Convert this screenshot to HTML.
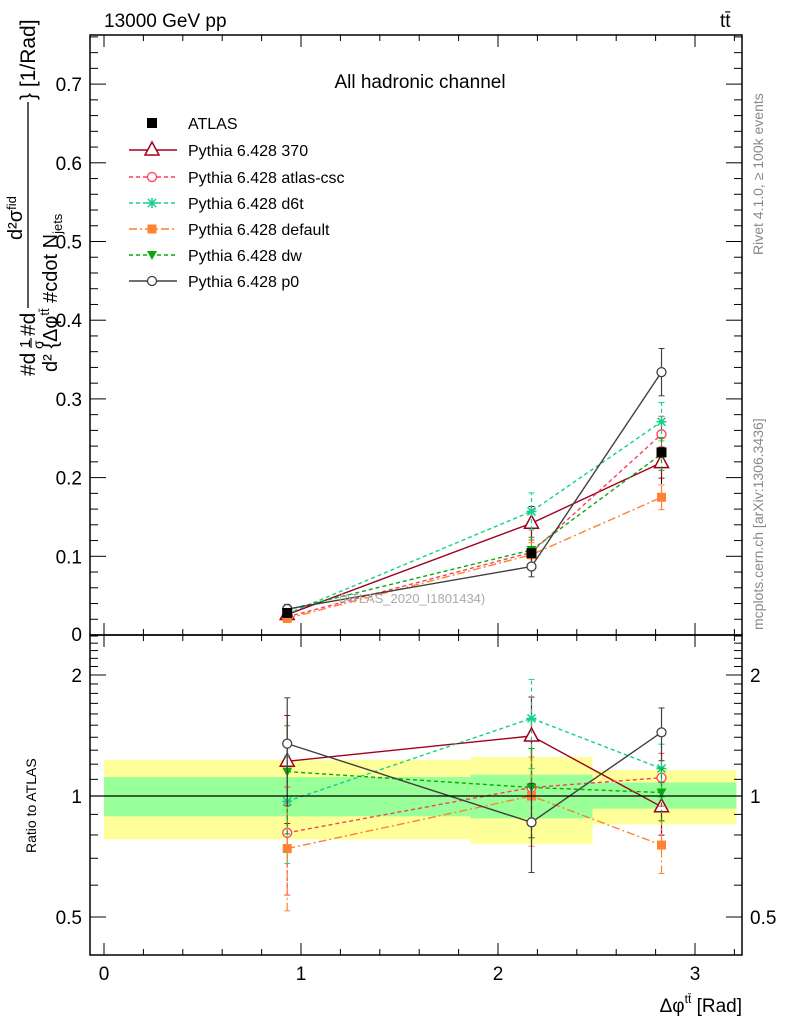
<!DOCTYPE html>
<html><head><meta charset="utf-8"><style>
html,body{margin:0;padding:0;background:#fff;}
svg{display:block;font-family:"Liberation Sans",sans-serif;}
</style></head><body>
<svg id="chart" width="786" height="1024" viewBox="0 0 786 1024">
<g id="bands"></g>
<g id="marks"></g>
<g id="axes"></g>
<text x="104" y="27" font-size="19">13000 GeV pp</text>
<text x="720" y="27" font-size="19">tt̄</text>
<text x="420" y="88" font-size="19" text-anchor="middle">All hadronic channel</text>
<text transform="translate(763,255) rotate(-90)" font-size="14" fill="#888">Rivet 4.1.0, ≥ 100k events</text>
<text transform="translate(763,630) rotate(-90)" font-size="14" fill="#888">mcplots.cern.ch [arXiv:1306.3436]</text>
<text x="412" y="603" font-size="13" fill="#aaa" text-anchor="middle">(ATLAS_2020_I1801434)</text>
<g>
<text transform="translate(35,376) rotate(-90)" font-size="21">#d</text>
<text transform="translate(30,348) rotate(-90)" font-size="15">1</text>
<text transform="translate(43,349) rotate(-90)" font-size="14">σ</text>
<line x1="31" x2="31" y1="348" y2="338" stroke="#000" stroke-width="1.2"/>
<text transform="translate(35,336) rotate(-90)" font-size="21">#d</text>
<line x1="28" x2="28" y1="308" y2="102" stroke="#000" stroke-width="1.3"/>
<text transform="translate(22,240) rotate(-90)" font-size="20">d²σ<tspan font-size="13" dy="-6">fid</tspan></text>
<text transform="translate(35,100) rotate(-90)" font-size="21">} [1/Rad]</text>
<text transform="translate(57,372) rotate(-90)" font-size="20">d² {Δφ<tspan font-size="13" dy="-8">tt̄</tspan><tspan dy="8"> #cdot N</tspan><tspan font-size="13" dy="5">jets</tspan></text>
</g>
<text transform="translate(36,853) rotate(-90)" font-size="14">Ratio to ATLAS</text>
<text x="742" y="1012" font-size="19" text-anchor="end">Δφ<tspan font-size="12" dy="-9">tt̄</tspan><tspan dy="9"> [Rad]</tspan></text>
<g id="legend"></g>
</svg>
<script>
const xCenters=[0.93,2.17,2.83];
const binEdges=[0,1.86,2.48,3.21];
const atlasVals=[0.028,0.104,0.232];
const atlasErr=[0.004,0.02,0.04];
const yTicks=[0.1,0.2,0.3,0.4,0.5,0.6,0.7];
const xTicks=[0,1,2,3];
const rTicks=[0.5,1,2];
const bandYellowLo=[0.78,0.76,0.85];
const bandYellowHi=[1.23,1.25,1.16];
const bandGreenLo=[0.89,0.88,0.93];
const bandGreenHi=[1.115,1.13,1.08];
const names=["Pythia 6.428 370","Pythia 6.428 atlas-csc","Pythia 6.428 d6t","Pythia 6.428 default","Pythia 6.428 dw","Pythia 6.428 p0"];
const v370=[0.026,0.142,0.219];
const vCsc=[0.023,0.105,0.255];
const vD6t=[0.027,0.157,0.271];
const vDef=[0.021,0.102,0.175];
const vDw=[0.032,0.108,0.230];
const vP0=[0.033,0.087,0.334];
const r370=[1.22,1.41,0.94];
const rCsc=[0.81,1.05,1.11];
const rD6t=[0.97,1.56,1.17];
const rDef=[0.74,1.00,0.755];
const rDw=[1.15,1.05,1.02];
const rP0=[1.35,0.86,1.44];
const rErrRel=[0.3,0.25,0.15];
const series=[
 {v:v370,r:r370,c:"#a0001e",d:"",m:"tri"},
 {v:vCsc,r:rCsc,c:"#ff3c5a",d:"4,3",m:"circ"},
 {v:vD6t,r:rD6t,c:"#14d08c",d:"4,3",m:"star"},
 {v:vDef,r:rDef,c:"#ff8232",d:"8,3,2,3",m:"sq"},
 {v:vDw,r:rDw,c:"#0aaa0a",d:"4,3",m:"dtri"},
 {v:vP0,r:rP0,c:"#404040",d:"",m:"circ"}];
const NS="http://www.w3.org/2000/svg";
const X=v=>104+197*v;
const Y=v=>635-787*v;
const R=v=>796-402*Math.log10(v);
function mk(t,a,p){const e=document.createElementNS(NS,t);for(const k in a)e.setAttribute(k,a[k]);p.appendChild(e);return e;}
const bands=document.getElementById('bands'),marks=document.getElementById('marks'),axes=document.getElementById('axes'),leg=document.getElementById('legend');
for(let i=0;i<3;i++){
 const y=mk('rect',{x:X(binEdges[i]),y:R(bandYellowHi[i]),width:X(binEdges[i+1])-X(binEdges[i]),height:R(bandYellowLo[i])-R(bandYellowHi[i]),fill:"#ffff99"},bands);
 
 const g=mk('rect',{x:X(binEdges[i]),y:R(bandGreenHi[i]),width:X(binEdges[i+1])-X(binEdges[i]),height:R(bandGreenLo[i])-R(bandGreenHi[i]),fill:"#99ff99"},bands);
 
}
function marker(m,x,y,c,p){
 let e;
 if(m=="tri")e=mk('polygon',{points:`${x},${y-8} ${x-7},${y+5} ${x+7},${y+5}`,fill:"#fff",stroke:c,"stroke-width":1.5},p);
 else if(m=="dtri")e=mk('polygon',{points:`${x},${y+5} ${x-5},${y-4} ${x+5},${y-4}`,fill:c},p);
 else if(m=="circ")e=mk('circle',{cx:x,cy:y,r:4.5,fill:"#fff",stroke:c,"stroke-width":1.3},p);
 else if(m=="sq")e=mk('rect',{x:x-4.5,y:y-4.5,width:9,height:9,fill:c},p);
 else if(m=="bsq")e=mk('rect',{x:x-5,y:y-5,width:10,height:10,fill:c},p);
 else{e=mk('path',{d:`M${x-5},${y}H${x+5}M${x},${y-5}V${y+5}M${x-4},${y-4}L${x+4},${y+4}M${x-4},${y+4}L${x+4},${y-4}`,stroke:c,"stroke-width":1.5},p);}
 return e;
}
for(let i=0;i<3;i++){
 const l=mk('line',{x1:X(xCenters[i]),x2:X(xCenters[i]),y1:Y(atlasVals[i]-atlasErr[i]),y2:Y(atlasVals[i]+atlasErr[i]),stroke:"#000"},marks);
 
}
series.forEach((s,si)=>{
 const pts=s.v.map((v,i)=>X(xCenters[i])+","+Y(v)).join(" ");
 const pl=mk('polyline',{points:pts,fill:"none",stroke:s.c,"stroke-width":1.4,"stroke-dasharray":s.d},marks);
 
 const rp=s.r.map((v,i)=>X(xCenters[i])+","+R(v)).join(" ");
 const rl=mk('polyline',{points:rp,fill:"none",stroke:s.c,"stroke-width":1.4,"stroke-dasharray":s.d},marks);
 
 s.v.forEach((v,i)=>{
  const x=X(xCenters[i]);
  const e=rErrRel[i]*v*0.6;
  const eb=mk('line',{x1:x,x2:x,y1:Y(v-e),y2:Y(v+e),stroke:s.c,"stroke-width":1.2,"stroke-dasharray":s.d},marks);
  
  mk('line',{x1:x-3,x2:x+3,y1:Y(v+e),y2:Y(v+e),stroke:s.c},marks);
  mk('line',{x1:x-3,x2:x+3,y1:Y(v-e),y2:Y(v-e),stroke:s.c},marks);
  const m=marker(s.m,x,Y(v),s.c,marks);
  
  const rv=s.r[i];const re=rErrRel[i]*rv;
  const rb=mk('line',{x1:x,x2:x,y1:R(rv-re),y2:R(rv+re),stroke:s.c,"stroke-width":1.2,"stroke-dasharray":s.d},marks);
  
  mk('line',{x1:x-3,x2:x+3,y1:R(rv+re),y2:R(rv+re),stroke:s.c},marks);
  mk('line',{x1:x-3,x2:x+3,y1:R(rv-re),y2:R(rv-re),stroke:s.c},marks);
  const rm=marker(s.m,x,R(rv),s.c,marks);
  
 });
});
atlasVals.forEach((v,i)=>{const m=marker("bsq",X(xCenters[i]),Y(v),"#000",marks);
 });
const one=mk('line',{x1:90,x2:742,y1:R(1),y2:R(1),stroke:"#000","stroke-width":1.2},marks);

const f1=mk('rect',{x:90,y:35,width:652,height:600,fill:"none",stroke:"#000","stroke-width":1.5},axes);

const f2=mk('rect',{x:90,y:635,width:652,height:320,fill:"none",stroke:"#000","stroke-width":1.5},axes);

for(let k=0;k<=16;k++){const v=k*0.2;const x=X(v);const maj=k%5==0;const L=maj?12:6;
 [[635,-1],[35,1],[955,-1],[635,1]].forEach(([y,d])=>mk('line',{x1:x,x2:x,y1:y,y2:y+d*L,stroke:"#000"},axes));}
xTicks.forEach(v=>{const t=mk('text',{x:X(v),y:980,"font-size":19,"text-anchor":"middle"},axes);t.textContent=v;
 });
for(let k=1;k<=38;k++){const v=k*0.02;const y=Y(v);if(y<36)continue;const maj=k%5==0;const L=maj?16:8;
 mk('line',{x1:90,x2:90+L,y1:y,y2:y,stroke:"#000"},axes);mk('line',{x1:742,x2:742-L,y1:y,y2:y,stroke:"#000"},axes);}
yTicks.forEach(v=>{const t=mk('text',{x:82,y:Y(v)+7,"font-size":19,"text-anchor":"end"},axes);t.textContent=v.toFixed(1);
 });
const z=mk('text',{x:82,y:641,"font-size":19,"text-anchor":"end"},axes);z.textContent="0";
for(let v=0.4;v<=2.5001;v+=0.1){const y=R(v);if(y<636||y>954)continue;const maj=[0.5,1,2].some(t=>Math.abs(t-v)<1e-6);const L=maj?16:8;
 mk('line',{x1:90,x2:90+L,y1:y,y2:y,stroke:"#000"},axes);mk('line',{x1:742,x2:742-L,y1:y,y2:y,stroke:"#000"},axes);}
rTicks.forEach(v=>{const a=mk('text',{x:82,y:R(v)+7,"font-size":19,"text-anchor":"end"},axes);a.textContent=v;
 
 const b=mk('text',{x:750,y:R(v)+7,"font-size":19},axes);b.textContent=v;
 });
const ly=[150,177,203,229,255,281];
marker("bsq",152,123,"#000",leg);
const at=mk('text',{x:188,y:129,"font-size":16},leg);at.textContent="ATLAS";

series.forEach((s,i)=>{
 mk('line',{x1:129,x2:177,y1:ly[i],y2:ly[i],stroke:s.c,"stroke-width":1.4,"stroke-dasharray":s.d},leg);
 marker(s.m,152,ly[i],s.c,leg);
 const t=mk('text',{x:188,y:ly[i]+6,"font-size":16},leg);t.textContent=names[i];
 
});
</script>
</body></html>
